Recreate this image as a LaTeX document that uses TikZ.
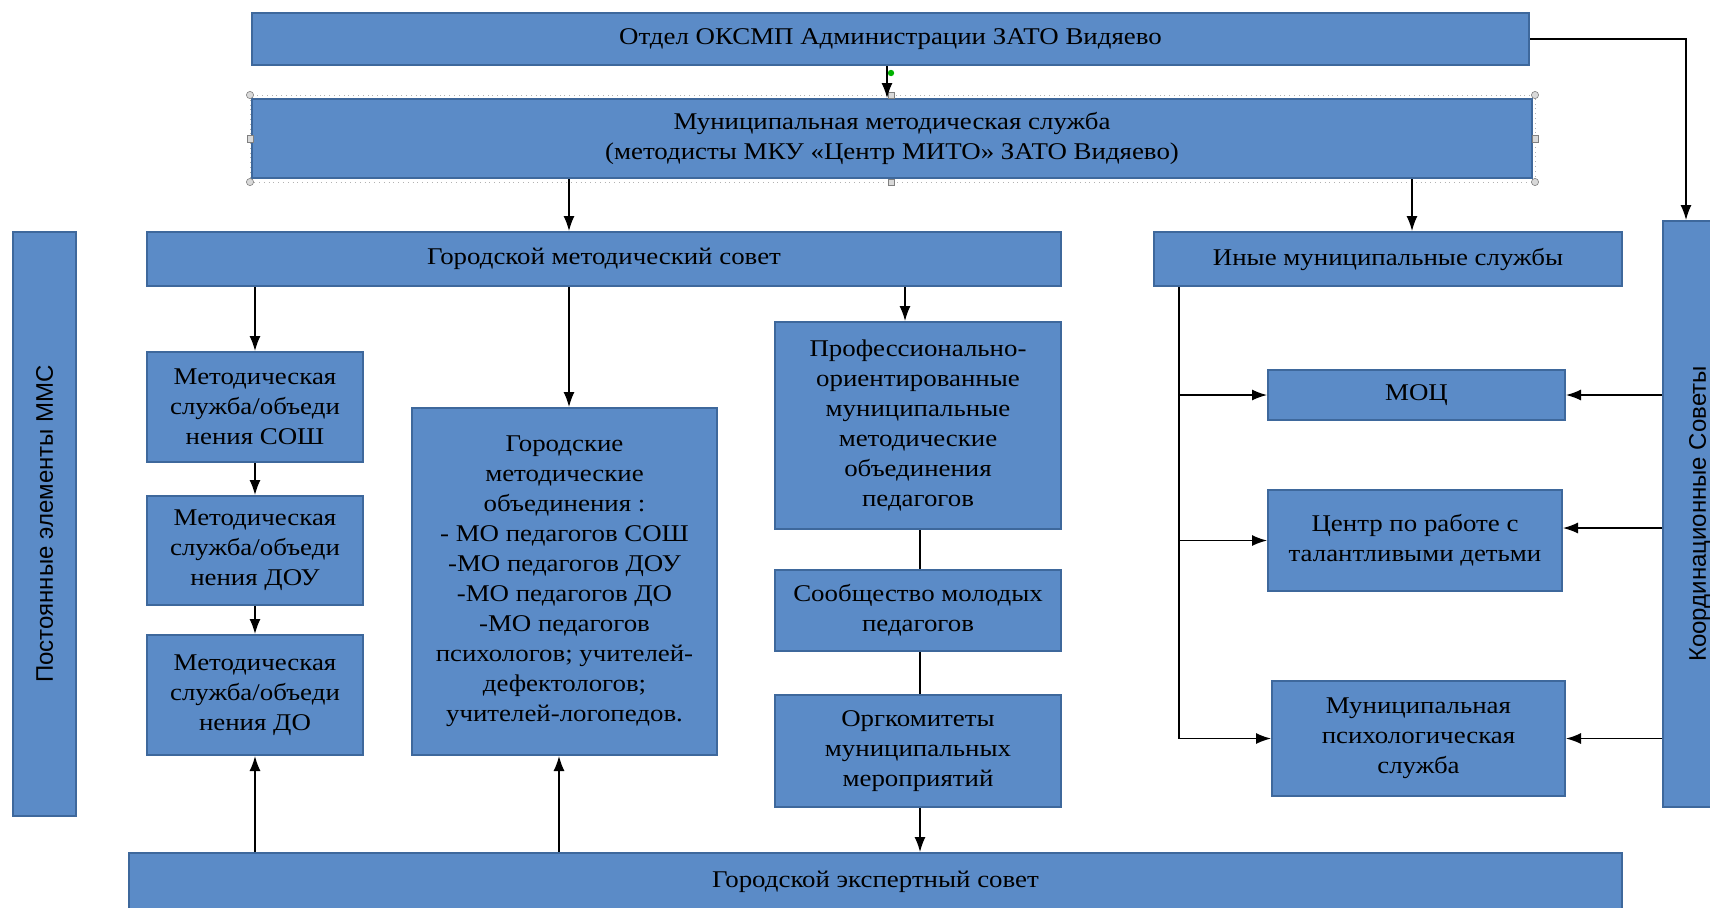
\documentclass[tikz,border=0pt]{standalone}
\usepackage{fontspec}
\setmainfont{Liberation Serif}[FakeStretch=1.12]
\newfontfamily\sansrot{Liberation Sans}
\usetikzlibrary{arrows.meta}
\definecolor{boxblue}{RGB}{91,139,199}
\definecolor{boxedge}{RGB}{62,104,156}

\begin{document}
\begin{tikzpicture}[x=0.5pt, y=-0.5pt,
  box/.style={draw=boxedge, line width=1pt, fill=boxblue, align=center, inner sep=2pt,
    font=\fontsize{12}{15}\selectfont},
  vbox/.style={box, rotate=90, font=\sansrot\fontsize{12}{15}\selectfont},
  arr/.style={->, >={Latex[length=7.5pt,width=5.5pt]}, line width=0.7pt},
  lnk/.style={line width=0.7pt}]
\useasboundingbox (0,0) rectangle (1710,907);
\clip (0,0) rectangle (1710,907);

% top level
\node[box, minimum width=638.5pt, minimum height=26pt] (otdel) at (890.5,39) {Отдел ОКСМП Администрации ЗАТО Видяево};
\node[box, minimum width=640pt, minimum height=39.5pt] (mms) at (892,138.5) {Муниципальная методическая служба\\(методисты МКУ «Центр МИТО» ЗАТО Видяево)};
\draw[gray!60, dotted, line width=0.4pt] (250,95) rectangle (1535,182);
\draw[gray, fill=gray!30, line width=0.3pt] (250,95) circle (1.8pt) (1535,95) circle (1.8pt)
  (250,182) circle (1.8pt) (1535,182) circle (1.8pt);
\draw[gray, fill=gray!30, line width=0.3pt] (888,92) rectangle (894,98) (888,179) rectangle (894,185)
  (247,135) rectangle (253,142) (1532,135) rectangle (1538,142);
\fill[green!70!black] (891,73) circle (1.6pt);

% side columns
\node[vbox, minimum width=292pt, minimum height=31.5pt] (post) at (44.5,524) {Постоянные элементы ММС};
\node[vbox, minimum width=293pt, minimum height=37pt] (koord) at (1700,514) {Координационные Советы};

% councils
\node[box, minimum width=457pt, minimum height=27pt] (gms) at (604,259) {Городской методический совет};
\node[box, minimum width=234pt, minimum height=27pt] (inye) at (1388,259) {Иные муниципальные службы};
\node[box, minimum width=746.5pt, minimum height=28.5pt] (gexp) at (875.5,881.5) {Городской экспертный совет};

% left column
\node[box, minimum width=108pt, minimum height=55pt] (msosh) at (255,407) {Методическая\\служба/объеди\\нения СОШ};
\node[box, minimum width=108pt, minimum height=54.5pt] (mdou) at (255,550.5) {Методическая\\служба/объеди\\нения ДОУ};
\node[box, minimum width=108pt, minimum height=60pt] (mdo) at (255,695) {Методическая\\служба/объеди\\нения ДО};

% middle
\node[box, minimum width=152.5pt, minimum height=173.5pt] (gmo) at (564.5,581.5) {Городские\\методические\\объединения :\\- МО педагогов СОШ\\-МО педагогов ДОУ\\-МО педагогов ДО\\-МО педагогов\\психологов; учителей-\\дефектологов;\\учителей-логопедов.};
\node[box, minimum width=143pt, minimum height=103.5pt] (prof) at (918,425.5) {Профессионально-\\ориентированные\\муниципальные\\методические\\объединения\\педагогов};
\node[box, minimum width=143pt, minimum height=40.5pt] (soob) at (918,610.5) {Сообщество молодых\\педагогов};
\node[box, minimum width=143pt, minimum height=56pt] (org) at (918,751) {Оргкомитеты\\муниципальных\\мероприятий};

% right column
\node[box, minimum width=148.5pt, minimum height=25pt] (moc) at (1416.5,395) {МОЦ};
\node[box, minimum width=147pt, minimum height=50.5pt] (centr) at (1415,540.5) {Центр по работе с\\талантливыми детьми};
\node[box, minimum width=146.5pt, minimum height=57.5pt] (mps) at (1418.5,738.5) {Муниципальная\\психологическая\\служба};

% connectors
\coordinate (xa) at (887,0);
\coordinate (xm) at (569,0);
\coordinate (xi) at (1412,0);
\coordinate (xk) at (1686,0);
\coordinate (xg) at (559,0);
\coordinate (xp) at (905,0);
\coordinate (xo) at (920,0);
\coordinate (vx) at (1179,0);
\coordinate (cy) at (0,528);
\draw[arr] (otdel.south -| xa) -- (mms.north -| xa);
\draw[arr] (otdel.east) -| (xk |- koord.east);
\draw[arr] (mms.south -| xm) -- (gms.north -| xm);
\draw[arr] (mms.south -| xi) -- (inye.north -| xi);
\draw[arr] (gms.south -| msosh.north) -- (msosh.north);
\draw[arr] (msosh.south) -- (mdou.north);
\draw[arr] (mdou.south) -- (mdo.north);
\draw[arr] (gexp.north -| mdo.south) -- (mdo.south);
\draw[arr] (gms.south -| xm) -- (gmo.north -| xm);
\draw[arr] (gexp.north -| xg) -- (gmo.south -| xg);
\draw[arr] (gms.south -| xp) -- (prof.north -| xp);
\draw[lnk] (prof.south -| xo) -- (soob.north -| xo);
\draw[lnk] (soob.south -| xo) -- (org.north -| xo);
\draw[arr] (org.south -| xo) -- (gexp.north -| xo);
\draw[lnk] (inye.south -| vx) -- (vx |- mps.west);
\draw[arr] (vx |- moc.west) -- (moc.west);
\draw[arr] (vx |- centr.west) -- (centr.west);
\draw[arr] (vx |- mps.west) -- (mps.west);
\draw[arr] (moc.east -| koord.north) -- (moc.east);
\draw[arr] (cy -| koord.north) -- (cy -| centr.east);
\draw[arr] (mps.east -| koord.north) -- (mps.east);
\end{tikzpicture}
\end{document}
